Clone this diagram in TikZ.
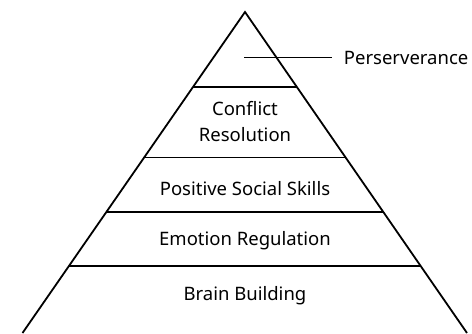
\documentclass[tikz,border=0pt]{standalone}
\usepackage{fontspec}
\setmainfont{Noto Sans}
\usepackage{tikz}
\usetikzlibrary{positioning,calc}

\begin{document}
\begin{tikzpicture}[x=1pt, y=1pt, line width=1.8pt,
    every node/.style={font=\fontsize{18.5}{26.7}\selectfont, text=black},
    level/.style={inner sep=0pt, align=center}]
    \useasboundingbox (0,0) rectangle (472,333);

    % outline of the pyramid
    \coordinate (apex) at (245,321);
    \coordinate (bl) at (22.5,0);
    \coordinate (br) at (467,0);
    \draw (bl) -- (apex) -- (br);

    % dividing lines
    \foreach \p/\n in {0.2327/a, 0.4533/b, 0.6221/c, 0.7913/d} {
      \path (apex) -- (bl) coordinate[pos=\p] (l\n);
      \path (apex) -- (br) coordinate[pos=\p] (r\n);
      \draw (l\n) -- (r\n);
    }

    % labels
    \node[level] (conflict) at (245,211.4) {Conflict\\Resolution};
    \node[level] (social) at (245,144.7) {Positive Social Skills};
    \node[level] (emotion) at (245,92) {Emotion Regulation};
    \node[level] (brain) at (245,37.3) {Brain Building};

    % top level with leader line
    \coordinate (lead) at (244,275.5);
    \node[level, anchor=west] (persev) at (343,275.5) {Perserverance};
    \draw[shorten >=11pt] (lead) -- (persev.west);
\end{tikzpicture}
\end{document}
